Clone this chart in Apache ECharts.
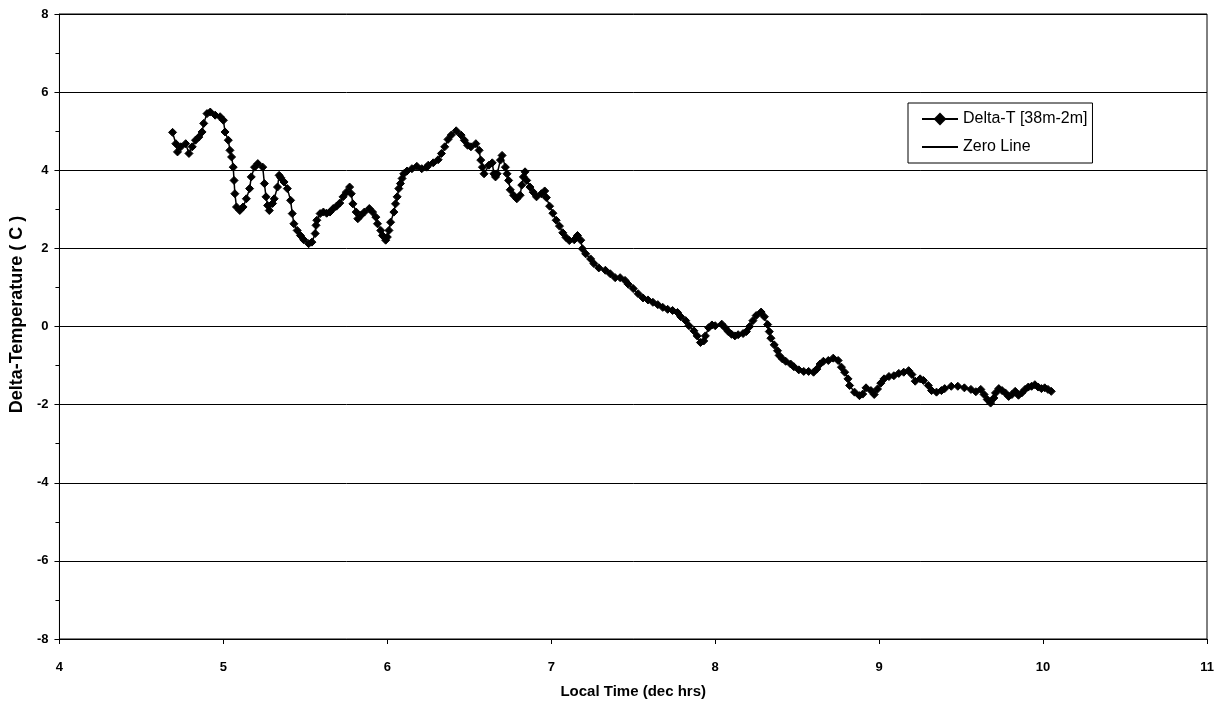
<!DOCTYPE html>
<html>
<head>
<meta charset="utf-8">
<script src="https://cdn.jsdelivr.net/npm/echarts@6/dist/echarts.min.js"></script>
<style>
html,body{margin:0;padding:0;background:#fff;}
#chart{width:1225px;height:709px;}
</style>
</head>
<body>
<div id="chart"></div>
<script>
// Local time (decimal hours)
const times = [
4.69,4.71,4.72,4.74,4.77,4.79,4.81,4.83,4.85,4.87,4.88,4.90,4.92,4.95,4.98,5.00,5.01,5.03,5.04,5.05,
5.06,5.065,5.07,5.08,5.10,5.12,5.14,5.16,5.17,5.19,5.21,5.24,5.25,5.26,5.27,5.28,5.30,5.31,5.33,5.34,
5.35,5.37,5.39,5.41,5.42,5.43,5.45,5.47,5.49,5.52,5.54,5.56,5.565,5.57,5.59,5.61,5.63,5.65,5.67,5.69,
5.71,5.73,5.75,5.77,5.78,5.79,5.81,5.82,5.84,5.86,5.89,5.91,5.93,5.94,5.96,5.97,5.99,6.00,6.01,6.02,
6.04,6.05,6.06,6.07,6.08,6.09,6.10,6.12,6.15,6.18,6.21,6.24,6.25,6.28,6.31,6.33,6.35,6.37,6.39,6.42,
6.45,6.47,6.49,6.51,6.54,6.56,6.57,6.58,6.59,6.62,6.64,6.65,6.66,6.67,6.69,6.70,6.72,6.73,6.74,6.75,
6.77,6.79,6.81,6.82,6.83,6.84,6.85,6.87,6.89,6.91,6.94,6.96,6.97,6.99,7.01,7.03,7.05,7.07,7.09,7.11,
7.14,7.16,7.18,7.19,7.21,7.24,7.26,7.29,7.33,7.36,7.39,7.42,7.45,7.47,7.50,7.53,7.56,7.59,7.62,7.65,
7.68,7.71,7.74,7.77,7.79,7.82,7.84,7.87,7.89,7.91,7.93,7.94,7.96,7.98,8.00,8.04,8.06,8.08,8.10,8.12,
8.14,8.17,8.19,8.21,8.23,8.25,8.28,8.30,8.32,8.33,8.34,8.36,8.38,8.39,8.41,8.43,8.46,8.48,8.51,8.54,
8.57,8.60,8.62,8.64,8.66,8.69,8.72,8.75,8.77,8.79,8.81,8.82,8.85,8.88,8.90,8.92,8.95,8.97,8.99,9.01,
9.03,9.06,9.09,9.12,9.15,9.18,9.20,9.22,9.25,9.27,9.30,9.32,9.35,9.38,9.40,9.44,9.48,9.52,9.56,9.59,
9.62,9.64,9.66,9.68,9.70,9.71,9.73,9.75,9.77,9.79,9.81,9.83,9.85,9.87,9.89,9.91,9.93,9.95,9.97,9.99,
10.01,10.03,10.05
];
// Delta-T [38m-2m] (C)
const deltaT = [
4.97,4.68,4.47,4.60,4.68,4.43,4.60,4.77,4.85,4.98,5.20,5.45,5.49,5.41,5.37,5.28,4.98,4.77,4.51,4.34,
4.08,3.74,3.40,3.06,2.97,3.06,3.27,3.53,3.83,4.08,4.17,4.08,3.66,3.32,3.10,2.97,3.15,3.27,3.57,3.87,
3.81,3.70,3.53,3.23,2.89,2.63,2.46,2.33,2.22,2.12,2.16,2.38,2.59,2.72,2.89,2.93,2.90,2.93,3.02,3.08,
3.16,3.32,3.44,3.57,3.40,3.14,2.93,2.76,2.85,2.93,3.02,2.93,2.80,2.63,2.46,2.33,2.21,2.29,2.46,2.67,
2.93,3.14,3.32,3.53,3.66,3.79,3.91,3.98,4.04,4.10,4.04,4.08,4.13,4.19,4.27,4.43,4.60,4.79,4.90,5.01,
4.90,4.77,4.64,4.60,4.68,4.51,4.26,4.08,3.91,4.13,4.19,3.91,3.83,3.91,4.26,4.38,4.08,3.91,3.74,3.50,
3.36,3.27,3.36,3.62,3.83,3.96,3.74,3.57,3.44,3.32,3.40,3.47,3.30,3.08,2.90,2.72,2.57,2.40,2.28,2.20,
2.22,2.33,2.21,1.99,1.86,1.73,1.61,1.50,1.44,1.35,1.25,1.25,1.18,1.08,0.97,0.84,0.73,0.68,0.62,0.56,
0.49,0.44,0.41,0.36,0.25,0.15,0.02,-0.11,-0.24,-0.41,-0.37,-0.24,-0.03,0.04,0.02,0.06,-0.03,-0.13,-0.20,-0.24,
-0.21,-0.18,-0.13,0.00,0.15,0.28,0.37,0.25,0.05,-0.13,-0.30,-0.47,-0.62,-0.74,-0.83,-0.89,-0.96,-1.03,-1.11,-1.15,
-1.15,-1.17,-1.09,-0.96,-0.89,-0.87,-0.81,-0.87,-1.04,-1.17,-1.34,-1.51,-1.68,-1.77,-1.73,-1.57,-1.64,-1.74,-1.60,-1.45,
-1.34,-1.28,-1.26,-1.20,-1.17,-1.13,-1.23,-1.40,-1.34,-1.38,-1.51,-1.64,-1.68,-1.64,-1.59,-1.53,-1.53,-1.57,-1.61,-1.67,
-1.61,-1.74,-1.87,-1.96,-1.83,-1.70,-1.59,-1.64,-1.70,-1.79,-1.74,-1.66,-1.76,-1.70,-1.61,-1.55,-1.53,-1.49,-1.55,-1.59,
-1.57,-1.61,-1.66
];
// Zero line end points
const zeroX = [4, 11];
const zeroY = [0, 0];

const FONT = "Arial, 'Liberation Sans', sans-serif";
const chart = echarts.init(document.getElementById('chart'), null, {renderer: 'canvas'});
const seriesData = times.map((t, i) => [t, deltaT[i]]);
const zeroData = zeroX.map((x, i) => [x, zeroY[i]]);

chart.setOption({
  animation: false,
  backgroundColor: '#fff',
  grid: {left: 57, right: 18, top: 14, bottom: 70, show: true, borderColor: '#000', borderWidth: 1},
  legend: {
    left: 908, top: 103, orient: 'vertical',
    backgroundColor: '#fff', borderColor: '#000', borderWidth: 1,
    padding: [8, 5, 8, 13], itemGap: 12, itemWidth: 36, itemHeight: 16,
    textStyle: {fontFamily: FONT, fontSize: 16, color: '#000'},
    data: [
      {name: 'Delta-T [38m-2m]'},
      {name: 'Zero Line', itemStyle: {opacity: 0}}
    ]
  },
  xAxis: {
    type: 'value', min: 4, max: 11, interval: 1,
    name: 'Local Time (dec hrs)', nameLocation: 'middle', nameGap: 45,
    nameTextStyle: {fontFamily: FONT, fontSize: 15, fontWeight: 'bold', color: '#000'},
    axisLine: {show: true, onZero: false, lineStyle: {color: '#000', width: 1}},
    axisTick: {show: true, length: 5, lineStyle: {color: '#000'}},
    axisLabel: {fontFamily: FONT, fontSize: 13, fontWeight: 'bold', color: '#000', margin: 22},
    splitLine: {show: false}
  },
  yAxis: {
    type: 'value', min: -8, max: 8, interval: 2,
    name: 'Delta-Temperature ( C )', nameLocation: 'middle', nameGap: 33,
    nameTextStyle: {fontFamily: FONT, fontSize: 18, fontWeight: 'bold', color: '#000', padding: [0, 0, 0, 24]},
    axisLine: {show: true, lineStyle: {color: '#000', width: 1}},
    axisTick: {show: true, length: 5, lineStyle: {color: '#000'}},
    minorTick: {show: true, splitNumber: 2, length: 4, lineStyle: {color: '#000'}},
    axisLabel: {fontFamily: FONT, fontSize: 13, fontWeight: 'bold', color: '#000', margin: 11},
    splitLine: {show: true, lineStyle: {color: '#000', width: 1}}
  },
  series: [
    {
      name: 'Delta-T [38m-2m]', type: 'line', data: seriesData,
      symbol: 'diamond', symbolSize: 8, showAllSymbol: true,
      lineStyle: {color: '#000', width: 1.5},
      itemStyle: {color: '#000', borderColor: '#000'},
      z: 3
    },
    {
      name: 'Zero Line', type: 'line', data: zeroData,
      symbol: 'none', lineStyle: {color: '#000', width: 1},
      itemStyle: {color: '#000'}, z: 2
    }
  ]
});
</script>
</body>
</html>
